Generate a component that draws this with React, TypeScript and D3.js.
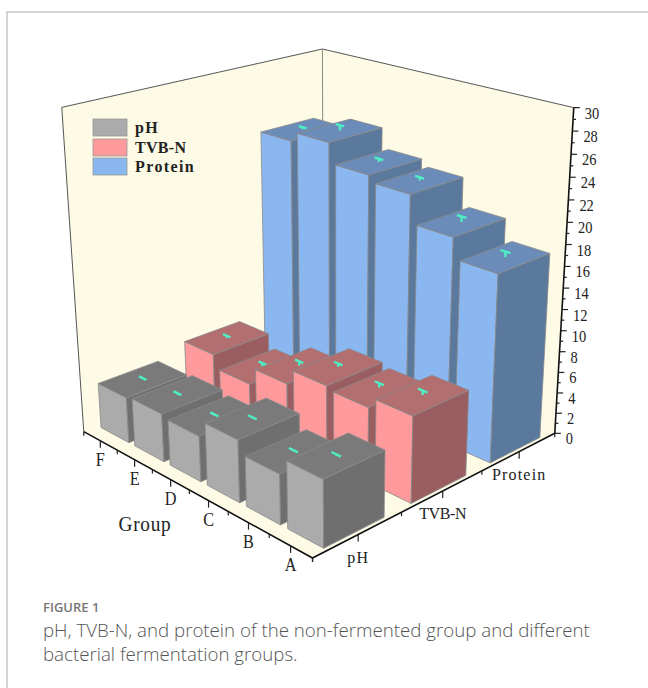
import React from "react";
import * as d3 from "d3";

// Chart values
const groups = ["A", "B", "C", "D", "E", "F"];
const seriesNames = ["pH", "TVB-N", "Protein"];
const phValues = [6.1, 4.6, 5.8, 4.3, 4.6, 4.4];
const tvbValues = [8.0, 7.0, 7.3, 5.8, 4.1, 5.4];
const proteinValues = [17.5, 19.4, 22.0, 22.6, 24.5, 23.6];
const phErrors = [0.1, 0.1, 0.1, 0.1, 0.1, 0.1];
const tvbErrors = [0.4, 0.4, 0.3, 0.4, 0.3, 0.2];
const proteinErrors = [0.5, 0.5, 0.3, 0.3, 0.5, 0.2];
const zTicks = d3.range(0, 31, 1);

const palette = [
  { face: "#ABABAB", side: "#6F6F6F", top: "#7A7A7A" },
  { face: "#FE9A9C", side: "#9B5E60", top: "#B36E70" },
  { face: "#8BB7F1", side: "#5B789D", top: "#6B8BB9" },
];

// Unit-cube corners and where they land on the page; the camera matrix is solved from them.
const cubeCorners = [
  [0, 0, 0], [1, 0, 0], [0, 1, 0], [1, 0, 1], [0, 1, 1], [1, 1, 1],
];
const pageCorners = [
  [312, 558], [84, 432], [555, 433], [62, 107], [574, 108], [322, 49],
];

function solveCamera(): number[] {
  const rows: number[][] = [];
  const rhs: number[] = [];
  cubeCorners.forEach(([X, Y, Z], i) => {
    const [u, v] = pageCorners[i];
    rows.push([X, Y, Z, 1, 0, 0, 0, 0, -u * X, -u * Y, -u * Z]);
    rhs.push(u);
    rows.push([0, 0, 0, 0, X, Y, Z, 1, -v * X, -v * Y, -v * Z]);
    rhs.push(v);
  });
  const n = 11;
  const m = d3.range(n).map((a) =>
    d3.range(n + 1).map((b) =>
      b < n
        ? d3.sum(rows, (r) => r[a] * r[b])
        : d3.sum(rows, (r, k) => r[a] * rhs[k])
    )
  );
  for (let c = 0; c < n; c++) {
    let p = c;
    for (let r = c + 1; r < n; r++) if (Math.abs(m[r][c]) > Math.abs(m[p][c])) p = r;
    [m[c], m[p]] = [m[p], m[c]];
    for (let r = 0; r < n; r++) {
      if (r === c) continue;
      const f = m[r][c] / m[c][c];
      for (let k = c; k <= n; k++) m[r][k] -= f * m[c][k];
    }
  }
  return m.map((row, i) => row[n] / row[i]);
}

const cam = solveCamera();
const project = (x: number, y: number, z: number): [number, number] => {
  const w = cam[8] * x + cam[9] * y + cam[10] * z + 1;
  return [
    (cam[0] * x + cam[1] * y + cam[2] * z + cam[3]) / w,
    (cam[4] * x + cam[5] * y + cam[6] * z + cam[7]) / w,
  ];
};

const xScale = d3.scaleBand<string>().domain(groups).range([0, 1]);
const yScale = d3.scaleBand<string>().domain(seriesNames).range([0, 1]);
const zScale = d3.scaleLinear().domain([0, 30]).range([0, 1]);
const barShareX = 0.83;
const barShareY = 0.68;

const pathOf = (pts: [number, number, number][]) =>
  d3.line()(pts.map((p) => project(p[0], p[1], p[2])))! + "Z";

const serif = "'Liberation Serif', serif";
const edge = "#8A8A8A";

function Bar({ g, s, value, err }: { g: number; s: number; value: number; err: number }) {
  const xc = xScale(groups[g])! + xScale.bandwidth() / 2;
  const yc = yScale(seriesNames[s])! + yScale.bandwidth() / 2;
  const hx = (xScale.bandwidth() * barShareX) / 2;
  const hy = (yScale.bandwidth() * barShareY) / 2;
  const x0 = xc - hx, x1 = xc + hx, y0 = yc - hy, y1 = yc + hy;
  const z = zScale(value);
  const zErr = zScale(value + err);
  const col = palette[s];
  const cap = hx * 0.26;
  return (
    <g>
      <path d={pathOf([[x0, y0, 0], [x1, y0, 0], [x1, y0, z], [x0, y0, z]])} fill={col.face} stroke={edge} strokeWidth={0.8} />
      <path d={pathOf([[x0, y0, 0], [x0, y1, 0], [x0, y1, z], [x0, y0, z]])} fill={col.side} stroke={edge} strokeWidth={0.8} />
      <path d={pathOf([[x0, y0, z], [x1, y0, z], [x1, y1, z], [x0, y1, z]])} fill={col.top} stroke={edge} strokeWidth={0.8} />
      <path
        d={d3.line()([project(xc, yc, z), project(xc, yc, zErr)])!}
        stroke="#4FEFC4" strokeWidth={2.4} fill="none"
      />
      <path
        d={d3.line()([project(xc - cap, yc, zErr), project(xc + cap, yc, zErr)])!}
        stroke="#4FEFC4" strokeWidth={2.4} fill="none"
      />
    </g>
  );
}

export default function App() {
  const seriesValues = [phValues, tvbValues, proteinValues];
  const seriesErrors = [phErrors, tvbErrors, proteinErrors];
  const bars: React.ReactNode[] = [];
  for (let s = seriesNames.length - 1; s >= 0; s--) {
    for (let g = groups.length - 1; g >= 0; g--) {
      bars.push(<Bar key={`${s}-${g}`} g={g} s={s} value={seriesValues[s][g]} err={seriesErrors[s][g]} />);
    }
  }
  const xEdges = d3.range(groups.length + 1).map((i) => i / groups.length);
  const yEdges = d3.range(seriesNames.length + 1).map((i) => i / seriesNames.length);
  const wallFill = "#FDFBE6";
  const legendTop = [119, 139, 158];
  return (
    <svg width={648} height={688} style={{ position: "absolute", left: 0, top: 0, display: "block", background: "#fff" }}>
      <path d="M7,688V12H648" fill="none" stroke="#C6C6C6" strokeWidth={1.5} />

      {/* walls and floor */}
      <path d={pathOf([[1, 0, 0], [1, 1, 0], [1, 1, 1], [1, 0, 1]])} fill={wallFill} />
      <path d={pathOf([[0, 1, 0], [1, 1, 0], [1, 1, 1], [0, 1, 1]])} fill={wallFill} />
      <path d={pathOf([[0, 0, 0], [1, 0, 0], [1, 1, 0], [0, 1, 0]])} fill={wallFill} />
      <path d={pathOf([[1, 0, 1], [1, 1, 1], [0, 1, 1]]).replace("Z", "")} fill="none" stroke="#555" strokeWidth={1} />
      <path d={pathOf([[1, 0, 0], [1, 0, 1]]).replace("Z", "")} fill="none" stroke="#555" strokeWidth={1} />
      <path d={pathOf([[1, 1, 0], [1, 1, 1]]).replace("Z", "")} fill="none" stroke="#8A8A80" strokeWidth={1} />

      {bars}

      {/* floor axes */}
      <path d={pathOf([[1, 0, 0], [0, 0, 0], [0, 1, 0]]).replace("Z", "")} fill="none" stroke="#111" strokeWidth={1.6} />
      {xEdges.map((t, i) => {
        const [px, py] = project(1 - t, 0, 0);
        return <line key={`xm${i}`} x1={px} y1={py} x2={px} y2={py + 4} stroke="#222" strokeWidth={1.2} />;
      })}
      {groups.map((g) => {
        const [px, py] = project(xScale(g)! + xScale.bandwidth() / 2, 0, 0);
        return (
          <g key={g}>
            <line x1={px} y1={py} x2={px} y2={py + 7} stroke="#222" strokeWidth={1.2} />
            <text transform={`translate(${px},${py + 25}) scale(0.9,1)`} textAnchor="middle" fontFamily={serif} fontSize={18} fill="#222">{g}</text>
          </g>
        );
      })}
      {yEdges.map((t, i) => {
        const [px, py] = project(0, t, 0);
        return <line key={`ym${i}`} x1={px} y1={py} x2={px} y2={py + 4} stroke="#222" strokeWidth={1.2} />;
      })}
      {seriesNames.map((s) => {
        const [px, py] = project(0, yScale(s)! + yScale.bandwidth() / 2, 0);
        return (
          <g key={s}>
            <line x1={px} y1={py} x2={px} y2={py + 7} stroke="#222" strokeWidth={1.2} />
            <text
              x={px} y={py + 28} textAnchor="middle" fontFamily={serif} fontSize={16}
              letterSpacing={s === "TVB-N" ? -0.4 : 1.2} fill="#222"
            >{s}</text>
          </g>
        );
      })}
      <text transform="translate(145,531) scale(0.92,1)" textAnchor="middle" fontFamily={serif} fontSize={21} letterSpacing={0.8} fill="#222">Group</text>

      {/* value axis */}
      <path d={pathOf([[0, 1, 0], [0, 1, 1]]).replace("Z", "")} fill="none" stroke="#111" strokeWidth={1.6} />
      {zTicks.map((t) => {
        const [px, py] = project(0, 1, zScale(t));
        const major = t % 2 === 0;
        return (
          <g key={t}>
            <line x1={px} y1={py} x2={px + (major ? 6 : 3)} y2={py} stroke="#222" strokeWidth={1.2} />
            {major && (
              <text transform={`translate(${px + 11},${py + 11}) scale(0.85,1)`} fontFamily={serif} fontSize={17} fill="#222">{t}</text>
            )}
          </g>
        );
      })}

      {/* legend */}
      {seriesNames.map((s, i) => (
        <g key={s}>
          <rect x={93} y={legendTop[i]} width={34} height={17} fill={palette[i].face} stroke="#999" strokeWidth={0.8} />
          <text x={135} y={legendTop[i] + 14} fontFamily={serif} fontWeight={700} fontSize={16} letterSpacing={s === "TVB-N" ? 0.3 : 1.4} fill="#222">{s}</text>
        </g>
      ))}

      {/* caption */}
      <text x={43} y={612} fontFamily="'Open Sans', sans-serif" fontSize={13} fontWeight={600} fill="#777">FIGURE 1</text>
      <text x={43} y={637} fontFamily="'Open Sans', sans-serif" fontSize={18.7} fontWeight={300} fill="#555">pH, TVB-N, and protein of the non-fermented group and different</text>
      <text x={43} y={661} fontFamily="'Open Sans', sans-serif" fontSize={18.7} fontWeight={300} fill="#555">bacterial fermentation groups.</text>
    </svg>
  );
}
